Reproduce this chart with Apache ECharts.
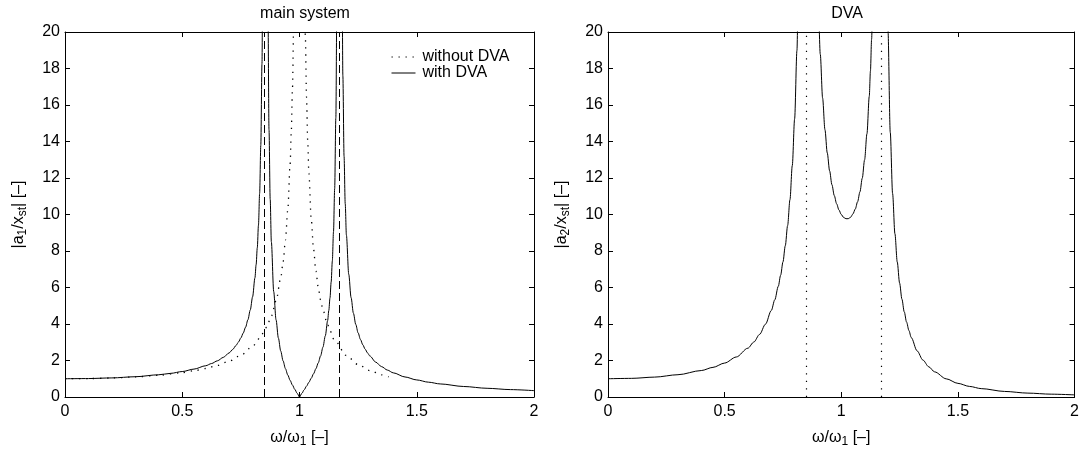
<!DOCTYPE html>
<html>
<head>
<meta charset="utf-8">
<script src="https://cdn.jsdelivr.net/npm/echarts@6/dist/echarts.min.js"></script>
<style>
html, body { margin: 0; padding: 0; background: #fff; }
#chartDiv { width: 1082px; height: 453px; }
</style>
</head>
<body>
<div id="chartDiv"></div>
<script>
// frequency ratio omega/omega_1 and read-off amplitudes
var w = [0, 0.1, 0.2, 0.3, 0.4, 0.45, 0.5, 0.55, 0.6, 0.625, 0.65, 0.675, 0.7, 0.715, 0.73, 0.74, 0.75, 0.76, 0.77, 0.78, 0.79, 0.8, 0.81, 0.815, 0.82, 0.825, 0.83, 0.835, 0.84, 0.845, 0.85,
  0.86, 0.865, 0.87, 0.875, 0.88, 0.89, 0.9, 0.91, 0.92, 0.93, 0.94, 0.95, 0.96, 0.97, 0.98, 0.99, 1.0,
  1.01, 1.02, 1.03, 1.04, 1.05, 1.06, 1.07, 1.08, 1.09, 1.1, 1.11, 1.12, 1.125, 1.13, 1.135, 1.14, 1.145, 1.15, 1.155, 1.16, 1.165,
  1.175, 1.18, 1.185, 1.19, 1.195, 1.2, 1.21, 1.22, 1.23, 1.24, 1.25, 1.26, 1.27, 1.28, 1.29, 1.3, 1.325, 1.35, 1.375, 1.4, 1.45, 1.5, 1.55, 1.6, 1.7, 1.8, 1.9, 2.0];

var a1 = [1, 1.011, 1.046, 1.111, 1.218, 1.295, 1.395, 1.529, 1.713, 1.834, 1.983, 2.171, 2.416, 2.603, 2.833, 3.018, 3.237, 3.501, 3.825, 4.233, 4.765, 5.488, 6.531, 7.249, 8.174, 9.411, 11.16, 13.79, 18.27, 27.55, 58.3,
  42.3, 22.02, 14.65, 10.84, 8.50, 5.777, 4.232, 3.228, 2.516, 1.980, 1.556, 1.208, 0.912, 0.652, 0.419, 0.204, 0,
  0.198, 0.395, 0.595, 0.804, 1.028, 1.273, 1.550, 1.871, 2.255, 2.731, 3.347, 4.190, 4.743, 5.427, 6.300, 7.453, 9.050, 11.42, 15.30, 22.86, 44.0,
  55.9, 26.62, 17.59, 13.20, 10.59, 8.871, 6.728, 5.445, 4.589, 3.975, 3.512, 3.150, 2.859, 2.620, 2.418, 2.247, 1.911, 1.664, 1.474, 1.323, 1.097, 0.935, 0.812, 0.716, 0.576, 0.477, 0.405, 0.349];

var a2 = [1, 1.021, 1.090, 1.221, 1.450, 1.624, 1.860, 2.192, 2.677, 3.010, 3.433, 3.988, 4.737, 5.325, 6.065, 6.671, 7.399, 8.288, 9.395, 10.81, 12.68, 15.24, 18.99, 21.59, 24.95, 29.47, 35.86, 45.6, 62.1, 96.3, 210,
  162.6, 87.5, 60.3, 46.2, 37.68, 27.79, 22.27, 18.78, 16.38, 14.65, 13.37, 12.39, 11.63, 11.04, 10.59, 10.25, 10.0,
  9.84, 9.77, 9.77, 9.85, 10.03, 10.30, 10.70, 11.24, 11.99, 13.00, 14.42, 16.47, 17.86, 19.60, 21.86, 24.88, 29.10, 35.41, 45.8, 66.1, 123.3,
  146.8, 67.8, 43.5, 31.72, 24.75, 20.16, 14.50, 11.15, 8.946, 7.394, 6.244, 5.362, 4.665, 4.103, 3.641, 3.256, 2.529, 2.023, 1.655, 1.378, 0.995, 0.748, 0.579, 0.459, 0.305, 0.213, 0.155, 0.116];

// main system without absorber
var wFree = [0, 0.1, 0.2, 0.3, 0.4, 0.5, 0.55, 0.6, 0.65, 0.7, 0.75, 0.8, 0.83, 0.85, 0.86, 0.88, 0.9, 0.92, 0.93, 0.94, 0.95, 0.96, 0.965, 0.97, 0.975, 0.98,
  1.02, 1.025, 1.03, 1.035, 1.04, 1.05, 1.06, 1.07, 1.08, 1.09, 1.1, 1.12, 1.15, 1.2, 1.25, 1.3, 1.35, 1.38];
var aFree = [1, 1.010, 1.042, 1.099, 1.190, 1.333, 1.434, 1.563, 1.732, 1.961, 2.286, 2.778, 3.214, 3.604, 3.840, 4.433, 5.263, 6.510, 7.402, 8.591, 10.26, 12.76, 14.54, 16.92, 20.25, 25.25,
  24.75, 19.75, 16.42, 14.04, 12.25, 9.756, 8.091, 6.901, 6.010, 5.316, 4.762, 3.931, 3.101, 2.273, 1.778, 1.449, 1.216, 1.106];

// natural frequencies of the coupled system
var resonances = [0.854, 1.170];

var xTicks = ['0', '0.5', '1', '1.5', '2'];

function pairs(xs, ys) {
  return xs.map(function (x, i) { return [x, ys[i]]; });
}

var font = "'Liberation Sans', Arial, Helvetica, sans-serif";
var axisColor = '#000';

function xAxisCfg(grid, pos) {
  var bottom = pos === 'bottom';
  return {
    type: 'value', gridIndex: grid, position: pos,
    min: 0, max: 2, interval: 0.5,
    name: bottom ? 'ω/ω{s|1} [–]' : '',
    nameLocation: 'middle', nameGap: 30,
    nameTextStyle: { fontSize: 16, color: '#000', fontFamily: font,
      rich: { s: { fontSize: 12, color: '#000', fontFamily: font, padding: [9, 0, 0, 0] } } },
    axisLine: { show: true, onZero: false, lineStyle: { color: axisColor, width: 1 } },
    axisTick: { show: true, inside: true, length: 5, lineStyle: { color: axisColor } },
    axisLabel: { show: bottom, margin: 7, fontSize: 16, color: '#000', fontFamily: font,
      formatter: function (v) { return xTicks[Math.round(v / 0.5)]; } },
    splitLine: { show: false }
  };
}

function yAxisCfg(grid, pos, label) {
  var left = pos === 'left';
  return {
    type: 'value', gridIndex: grid, position: pos,
    min: 0, max: 20, interval: 2,
    name: left ? label : '',
    nameLocation: 'middle', nameGap: 36, nameRotate: 90,
    nameTextStyle: { fontSize: 16, color: '#000', fontFamily: font,
      rich: { s: { fontSize: 12, color: '#000', fontFamily: font, padding: [9, 0, 0, 0] } } },
    axisLine: { show: true, onZero: false, lineStyle: { color: axisColor, width: 1 } },
    axisTick: { show: true, inside: true, length: 5, lineStyle: { color: axisColor } },
    axisLabel: { show: left, margin: 5, fontSize: 16, color: '#000', fontFamily: font },
    splitLine: { show: false }
  };
}

var chart = echarts.init(document.getElementById('chartDiv'));

var option = {
  animation: false,
  backgroundColor: '#fff',
  textStyle: { fontFamily: font },
  title: [
    { text: 'main system', left: 300, top: 1, textAlign: 'center',
      textStyle: { fontSize: 16, fontWeight: 'normal', color: '#000', fontFamily: font } },
    { text: 'DVA', left: 842, top: 1, textAlign: 'center',
      textStyle: { fontSize: 16, fontWeight: 'normal', color: '#000', fontFamily: font } }
  ],
  legend: {
    data: ['without DVA', 'with DVA'],
    orient: 'vertical', left: 391, top: 49, padding: 0,
    itemWidth: 24, itemHeight: 10, itemGap: 0,
    itemStyle: { color: 'rgba(0,0,0,0)', borderWidth: 0 },
    lineStyle: { width: 1 },
    textStyle: { fontSize: 16, color: '#000', fontFamily: font, lineHeight: 14, padding: [0, 0, 0, 2] }
  },
  grid: [
    { left: 65, top: 32, width: 469, height: 370 },
    { left: 608, top: 32, width: 469, height: 370 }
  ],
  xAxis: [xAxisCfg(0, 'bottom'), xAxisCfg(1, 'bottom'), xAxisCfg(0, 'top'), xAxisCfg(1, 'top')],
  yAxis: [
    yAxisCfg(0, 'left', '|a{s|1}/x{s|st}| [–]'),
    yAxisCfg(1, 'left', '|a{s|2}/x{s|st}| [–]'),
    yAxisCfg(0, 'right'),
    yAxisCfg(1, 'right')
  ],
  series: [
    {
      name: 'without DVA', type: 'line', xAxisIndex: 0, yAxisIndex: 0,
      data: pairs(wFree, aFree), showSymbol: false, symbol: 'none',
      smooth: 0.3, smoothMonotone: 'x',
      lineStyle: { color: '#000', width: 1.3, type: [1.3, 5.7] },
      itemStyle: { color: '#000' }
    },
    {
      name: 'with DVA', type: 'line', xAxisIndex: 0, yAxisIndex: 0,
      data: pairs(w, a1), showSymbol: false, symbol: 'none',
      smooth: 0.3, smoothMonotone: 'x',
      lineStyle: { color: '#000', width: 1 },
      itemStyle: { color: '#000' },
      markLine: {
        silent: true, symbol: 'none', label: { show: false },
        lineStyle: { color: '#000', width: 1, type: [8, 4] },
        data: resonances.map(function (r) { return { xAxis: r }; })
      }
    },
    {
      name: 'absorber', type: 'line', xAxisIndex: 1, yAxisIndex: 1,
      data: pairs(w, a2), showSymbol: false, symbol: 'none',
      smooth: 0.3, smoothMonotone: 'x',
      lineStyle: { color: '#000', width: 1 },
      markLine: {
        silent: true, symbol: 'none', label: { show: false },
        lineStyle: { color: '#000', width: 1.2, type: [1.2, 6.3] },
        data: resonances.map(function (r) { return { xAxis: r }; })
      }
    }
  ]
};

chart.setOption(option);
window.onresize = chart.resize;
</script>
</body>
</html>
